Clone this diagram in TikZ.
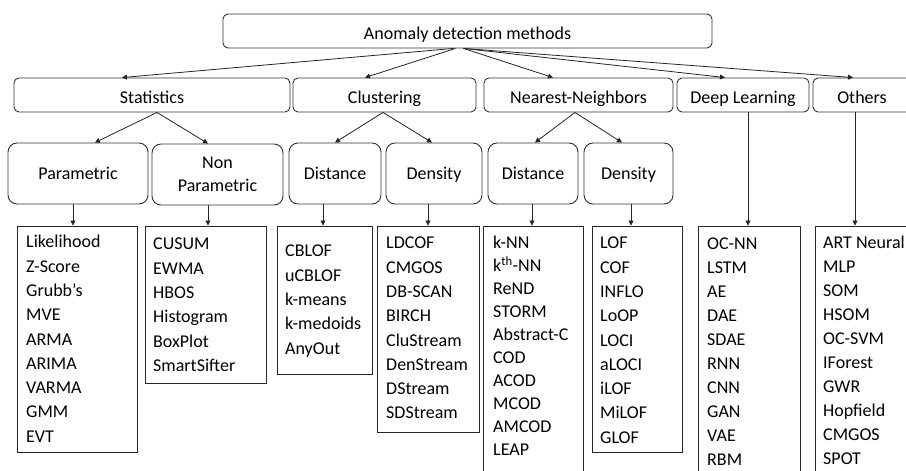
\documentclass[tikz,border=0pt]{standalone}
\usepackage{fontspec}
\setmainfont{Carlito}
\usetikzlibrary{arrows.meta,calc}

\tikzset{
  box/.style={draw=black!80, line width=0.9pt, rounded corners=5pt, inner sep=0pt,
    font=\fontsize{18}{23}\selectfont, align=center},
  headbox/.style={box, text height=16.4pt, text depth=0pt},
  catbox/.style={box, rounded corners=9pt},
  onecat/.style={catbox, text height=11.6pt, text depth=0pt},
  listbox/.style={draw=black!85, line width=0.9pt, inner sep=0pt},
  item/.style={anchor=base west, inner sep=0pt, font=\fontsize{18}{22}\selectfont},
  arr/.style={draw=black!85, line width=0.8pt, -{Triangle[length=5pt,width=5pt]}}
}

\begin{document}
\begin{tikzpicture}[x=1pt,y=-1pt]
\useasboundingbox (0,0) rectangle (906,471);
\clip (0,0) rectangle (906,471);
\fill[white] (0,0) rectangle (906,471);

% root
\node[headbox, minimum width=489pt, minimum height=34pt] (root) at (467.5,31) {Anomaly detection methods};

% families
\node[headbox, minimum width=276pt, minimum height=34pt] (stat) at (152,95) {Statistics};
\node[headbox, minimum width=183pt, minimum height=34pt] (clus) at (384.5,95) {Clustering};
\node[headbox, minimum width=189pt, minimum height=34pt] (nn)   at (578.5,95) {Nearest-Neighbors};
\node[headbox, minimum width=132pt, minimum height=34pt] (dl)   at (743,95) {Deep Learning};
\node[headbox, minimum width=98pt,  minimum height=34pt] (oth)  at (862,95) {Others};

% sub-families
\node[onecat,  minimum width=140pt, minimum height=61pt] (par)   at (78,173.5) {Parametric};
\node[catbox,  minimum width=131pt, minimum height=61pt] (npar)  at (217.5,174.5) {Non\\Parametric};
\node[onecat,  minimum width=92pt,  minimum height=61pt] (cdist) at (335,173.5) {Distance};
\node[onecat,  minimum width=96pt,  minimum height=61pt] (cdens) at (434,173.5) {Density};
\node[onecat,  minimum width=90pt,  minimum height=61pt] (ndist) at (533,173.5) {Distance};
\node[onecat,  minimum width=89pt,  minimum height=61pt] (ndens) at (628.5,173.5) {Density};

% method lists
\node[listbox, minimum width=120pt, minimum height=226pt] (lpar)   at (77,339) {};
\node[listbox, minimum width=121pt, minimum height=157pt] (lnpar)  at (205.5,304.5) {};
\node[listbox, minimum width=95pt,  minimum height=148pt] (lcdist) at (324.5,300) {};
\node[listbox, minimum width=102pt, minimum height=206pt] (lcdens) at (428,329) {};
\node[listbox, minimum width=100pt, minimum height=294pt] (lndist) at (533,373) {};
\node[listbox, minimum width=90pt,  minimum height=226pt] (lndens) at (637,339) {};
\node[listbox, minimum width=102pt, minimum height=294pt] (ldl)    at (749,373) {};
\node[listbox, minimum width=115pt, minimum height=294pt] (loth)   at (872.5,373) {};

% root -> families
\draw[arr] ([xshift=-14pt]root.south) -- ([xshift=-30pt]stat.north);
\draw[arr] ([xshift=-12pt]root.south) -- ([xshift=-19.5pt]clus.north);
\draw[arr] ([xshift=-4pt]root.south) -- ([xshift=-25.5pt]nn.north);
\draw[arr] ([xshift=-4pt]root.south) -- ([xshift=-18pt]dl.north);
\draw[arr] ([xshift=-4pt]root.south) -- ([xshift=-9pt]oth.north);

% families -> sub-families
\draw[arr] ([xshift=5pt]stat.south) -- ([xshift=17pt]par.north);
\draw[arr] ([xshift=5pt]stat.south) -- ([xshift=-9.5pt]npar.north);
\draw[arr] ([xshift=-1.5pt]clus.south) -- (cdist.north);
\draw[arr] ([xshift=-1.5pt]clus.south) -- ([xshift=-2pt]cdens.north);
\draw[arr] ([xshift=-3.5pt]nn.south) -- ([xshift=2pt]ndist.north);
\draw[arr] ([xshift=-3.5pt]nn.south) -- ([xshift=-6.5pt]ndens.north);

% sub-families -> lists
\draw[arr] ([xshift=-5pt]par.south) -- ([xshift=-4pt]lpar.north);
\draw[arr] ([xshift=-9.5pt]npar.south) -- ([xshift=2.5pt]lnpar.north);
\draw[arr] ([xshift=-12pt]cdist.south) -- ([xshift=-1.5pt]lcdist.north);
\draw[arr] ([xshift=-6pt]cdens.south) -- (lcdens.north);
\draw[arr] ([xshift=-1pt]ndist.south) -- ([xshift=-1pt]lndist.north);
\draw[arr] ([xshift=2.5pt]ndens.south) -- ([xshift=-6pt]lndens.north);
\draw[arr] ([xshift=5pt]dl.south) -- ([xshift=-1pt]ldl.north);
\draw[arr] ([xshift=-7pt]oth.south) -- ([xshift=-17.5pt]loth.north);

% list entries
\foreach \t [count=\i] in {Likelihood, Z-Score, Grubb’s, MVE, ARMA, ARIMA, VARMA, GMM, EVT}
  \node[item] (lpar-\i) at (26,{247.8+(\i-1)*24.3}) {\t};
\foreach \t [count=\i] in {CUSUM, EWMA, HBOS, Histogram, BoxPlot, SmartSifter}
  \node[item] (lnpar-\i) at (153,{249.8+(\i-1)*24.3}) {\t};
\foreach \t [count=\i] in {CBLOF, uCBLOF, k-means, k-medoids, AnyOut}
  \node[item] (lcdist-\i) at (285,{256.8+(\i-1)*24.3}) {\t};
\foreach \t [count=\i] in {LDCOF, CMGOS, DB-SCAN, BIRCH, CluStream, DenStream, DStream, SDStream}
  \node[item] (lcdens-\i) at (386,{248.8+(\i-1)*24.3}) {\t};
\foreach \t [count=\i] in {k-NN, k\textsuperscript{th}-NN, ReND, STORM, Abstract-C, COD, ACOD, MCOD, AMCOD, LEAP}
  \node[item] (lndist-\i) at (493,{248.8+(\i-1)*23.0}) {\t};
\foreach \t [count=\i] in {LOF, COF, INFLO, LoOP, LOCI, aLOCI, iLOF, MiLOF, GLOF}
  \node[item] (lndens-\i) at (600,{248.8+(\i-1)*24.3}) {\t};
\foreach \t [count=\i] in {OC-NN, LSTM, AE, DAE, SDAE, RNN, CNN, GAN, VAE, RBM}
  \node[item] (ldl-\i) at (707,{249.8+(\i-1)*24.0}) {\t};
\foreach \t [count=\i] in {ART Neural, MLP, SOM, HSOM, OC-SVM, IForest, GWR, Hopfield, CMGOS, SPOT}
  \node[item] (loth-\i) at (823,{248.8+(\i-1)*24.0}) {\t};
\end{tikzpicture}
\end{document}
